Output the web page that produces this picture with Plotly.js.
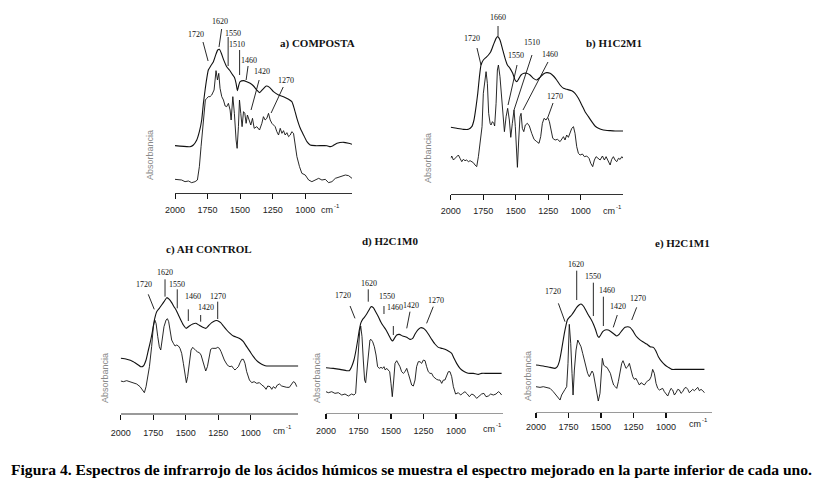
<!DOCTYPE html>
<html><head><meta charset="utf-8">
<script src="https://cdn.plot.ly/plotly-3.0.1.min.js"></script>
<style>html,body{margin:0;padding:0;background:#fff}#chart{width:823px;height:488px}</style>
</head><body><div id="chart"></div>
<script>
// ---- Data (wavenumber cm-1, absorbance in arbitrary units) ----
var tickVals = [2000, 1750, 1500, 1250, 1000];
var tickText = ["2000", "1750", "1500", "1250", "1000"];

// a) COMPOSTA
var aUpperWn = [2000,1885,1859,1833,1813,1795,1782,1769,1756,1744,1726,1705,1685,1672,1659,1646,1628,1603,1582,1562,1544,1531,1521,1510,1500,1474,1449,1423,1397,1372,1351,1326,1300,1274,1244,1205,1167,1128,1103,1085,1064,1038,1013,987,962,923,833,808,787,756,705,667,641];
var aUpperA  = [163,160,165,180,205,240,290,330,365,390,402,415,438,450,452,442,422,400,390,378,368,350,328,345,355,358,355,350,342,330,322,332,342,338,325,315,310,302,295,275,245,215,195,175,165,163,163,160,163,170,173,170,167];
var aLowerWn = [2000,1974,1949,1923,1897,1872,1846,1828,1813,1800,1787,1777,1767,1756,1744,1731,1718,1700,1685,1674,1664,1654,1641,1628,1615,1603,1590,1577,1569,1556,1544,1531,1523,1513,1505,1495,1485,1474,1464,1454,1444,1431,1418,1405,1392,1372,1351,1333,1321,1308,1295,1282,1269,1256,1244,1231,1218,1205,1192,1179,1167,1154,1141,1128,1115,1103,1090,1080,1064,1044,1026,1000,974,949,923,897,872,846,821,795,769,744,718,692,667,641];
var aLowerA  = [62,60,60,55,57,52,55,60,100,160,220,280,300,305,310,310,315,330,388,360,380,335,310,300,282,280,290,270,240,310,260,180,155,220,300,260,220,265,260,230,255,240,225,245,215,220,210,230,250,240,245,260,240,230,225,220,205,195,215,200,208,195,202,190,195,205,200,170,130,100,80,75,60,55,60,65,60,62,52,55,65,68,72,75,73,65];

// b) H1C2M1
var bUpperWn = [2000,1954,1903,1864,1838,1821,1805,1792,1779,1767,1749,1728,1710,1692,1672,1651,1638,1621,1603,1582,1564,1544,1523,1505,1492,1479,1459,1436,1415,1390,1364,1338,1313,1287,1262,1236,1210,1185,1159,1133,1108,1069,1044,1018,992,967,941,915,890,864,826,774,736,697,675];
var bUpperA  = [218,215,212,212,220,240,280,320,370,405,420,428,435,445,465,485,490,480,455,425,405,395,380,360,355,362,375,380,380,375,365,360,368,378,382,380,372,360,345,335,332,328,320,305,285,265,250,235,222,215,210,208,207,207,207];
var bLowerWn = [2000,1992,1979,1967,1954,1941,1928,1915,1903,1890,1877,1864,1851,1826,1813,1800,1787,1779,1769,1759,1749,1736,1728,1718,1708,1697,1690,1679,1669,1662,1651,1641,1633,1621,1608,1595,1587,1574,1562,1549,1538,1526,1513,1503,1492,1487,1477,1467,1459,1449,1438,1426,1410,1395,1377,1359,1338,1321,1308,1295,1282,1267,1254,1241,1228,1215,1197,1179,1159,1146,1133,1121,1108,1095,1082,1069,1056,1044,1031,1018,1005,987,972,954,936,923,908,895,882,864,851,833,818,805,787,774,762,749,736,723,710,697,684,675];
var bLowerA  = [125,132,120,125,130,135,125,115,122,118,120,115,118,112,105,100,130,160,180,220,320,370,385,350,260,230,225,235,230,222,290,390,405,370,300,220,205,250,275,240,188,230,270,220,130,98,180,250,260,215,205,225,230,222,200,182,175,170,190,230,245,240,248,235,210,185,180,182,175,182,190,180,195,188,202,215,220,200,160,140,135,138,130,132,125,110,100,120,130,125,120,132,120,130,115,105,122,130,120,115,125,122,130,125];

// c) AH CONTROL
var cUpperWn = [2000,1954,1903,1864,1846,1826,1805,1787,1769,1754,1741,1723,1703,1685,1667,1646,1626,1608,1590,1574,1556,1538,1518,1497,1472,1446,1421,1395,1369,1344,1326,1300,1274,1254,1231,1210,1185,1159,1133,1108,1082,1056,1031,1005,979,954,928,903,877,800,723,634];
var cUpperA  = [245,242,235,225,220,222,240,270,300,330,360,385,395,405,415,427,422,412,400,390,375,360,345,335,342,348,350,344,338,335,342,352,358,358,352,342,330,320,312,308,304,295,280,265,250,238,230,225,222,222,222,222];
var cLowerWn = [2000,1979,1954,1928,1903,1877,1851,1833,1818,1805,1795,1779,1762,1749,1738,1728,1715,1703,1692,1679,1667,1651,1641,1631,1621,1608,1595,1582,1569,1556,1544,1531,1518,1505,1495,1485,1472,1459,1446,1433,1421,1408,1395,1382,1369,1356,1346,1333,1321,1308,1295,1279,1267,1254,1241,1228,1215,1203,1185,1172,1159,1146,1133,1121,1108,1095,1082,1069,1056,1044,1031,1010,992,974,954,933,915,897,882,869,851,838,826,810,795,779,762,744,723,703,684,672,659,646];
var cLowerA  = [177,175,178,175,172,168,160,148,142,160,180,220,280,340,360,350,310,280,270,300,340,360,364,355,330,300,290,282,285,282,275,260,230,195,172,190,240,270,278,272,268,264,262,255,240,220,207,220,250,272,275,275,275,278,275,265,250,240,228,222,220,222,215,210,215,220,232,242,242,230,205,180,172,175,170,172,165,160,152,162,160,152,160,155,165,168,162,160,158,158,168,175,172,160];

// d) H2C1M0
var dUpperWn = [2000,1944,1892,1841,1821,1803,1785,1769,1756,1744,1731,1718,1705,1687,1669,1654,1636,1618,1597,1579,1559,1538,1518,1500,1487,1474,1456,1436,1410,1379,1354,1333,1315,1295,1272,1251,1231,1213,1187,1162,1136,1110,1085,1059,1033,1015,995,969,944,918,892,867,828,803,764,713,649];
var dUpperA  = [217,215,212,208,208,220,240,270,300,330,352,362,368,378,390,400,397,385,370,355,342,330,315,302,297,305,315,317,312,308,302,305,318,330,337,335,328,318,302,288,278,275,272,267,260,245,230,215,207,202,200,200,197,200,200,200,200];
var dLowerWn = [2000,1982,1956,1931,1905,1879,1854,1828,1803,1785,1772,1762,1751,1741,1733,1723,1713,1703,1695,1685,1674,1662,1654,1641,1628,1615,1603,1590,1577,1564,1554,1544,1533,1521,1510,1500,1490,1479,1469,1456,1444,1431,1418,1405,1392,1379,1367,1354,1341,1328,1315,1303,1290,1277,1264,1251,1238,1226,1213,1200,1187,1174,1162,1149,1136,1123,1110,1097,1085,1072,1059,1046,1033,1020,1003,982,964,949,931,913,897,879,862,841,823,803,785,769,751,733,713,692,674,662,649];
var dLowerA  = [145,142,145,140,142,135,138,132,138,135,140,200,270,325,342,310,240,180,172,210,270,300,302,295,280,255,220,215,218,215,220,210,215,210,205,170,130,180,230,238,230,220,205,200,205,215,200,180,165,162,180,220,235,235,230,240,238,220,205,200,200,190,185,182,180,180,170,180,180,192,205,205,190,160,138,142,135,140,145,138,130,138,135,125,132,138,140,130,132,138,135,138,145,142,135];

// e) H2C1M1
var eUpperWn = [2000,1944,1892,1854,1836,1821,1808,1795,1782,1769,1759,1744,1726,1708,1687,1669,1654,1636,1618,1597,1577,1559,1541,1526,1515,1503,1487,1469,1444,1423,1400,1379,1359,1336,1315,1295,1277,1256,1231,1205,1179,1149,1123,1097,1079,1059,1033,1008,982,956,918,867,790,705];
var eUpperA  = [195,192,188,185,190,205,230,260,290,315,330,338,345,355,368,375,378,372,360,345,332,318,300,282,278,285,295,300,300,295,288,282,288,300,308,310,308,298,282,272,265,258,250,248,238,220,205,195,188,182,182,182,182,182];
var eLowerWn = [2000,1969,1944,1918,1892,1867,1846,1828,1815,1803,1790,1777,1764,1754,1744,1733,1723,1715,1705,1692,1679,1667,1654,1641,1628,1615,1603,1590,1579,1569,1559,1546,1533,1521,1508,1497,1490,1479,1467,1454,1441,1428,1415,1403,1390,1379,1367,1354,1341,1331,1321,1308,1295,1282,1269,1256,1244,1231,1218,1205,1192,1179,1167,1154,1141,1128,1115,1103,1090,1077,1064,1051,1038,1026,1013,1000,987,974,962,949,936,923,910,897,885,872,859,846,833,821,808,795,782,769,756,744,731,718,705];
var eLowerA  = [130,128,130,128,125,115,105,95,90,105,115,122,130,200,317,260,170,105,180,240,270,260,250,230,210,190,170,160,170,177,170,140,105,87,110,170,215,195,190,188,180,170,150,135,130,125,145,175,200,208,195,185,190,200,180,160,152,155,145,135,142,138,135,142,148,150,160,182,170,140,125,120,122,125,115,108,102,115,125,120,105,112,122,120,110,115,125,128,122,112,118,122,118,122,128,118,122,118,112];

// Band labels: [text, label wn, label A, line wn1, A1, wn2, A2]
var aBands = [["1720",1838,495,1785,474,1746,417],["1620",1654,534,1642,513,1662,459],["1550",1554,498,1592,489,1592,402],["1510",1523,465,1504,450,1504,375],["1460",1431,417,1439,402,1454,360],["1420",1331,384,1354,360,1416,270],["1270",1146,357,1169,339,1262,261]];
var bBands = [["1720",1836,483,1798,456,1767,405],["1660",1636,546,1636,522,1636,492],["1550",1498,432,1490,405,1559,285],["1510",1375,471,1375,435,1513,270],["1460",1236,435,1252,414,1444,270],["1270",1198,309,1213,291,1252,249]];
var cBands = [["1720",1818,467,1788,437,1742,392],["1620",1659,502,1659,482,1659,430],["1550",1565,467,1565,452,1565,395],["1460",1446,430,1480,392,1480,357],["1420",1344,397,1385,375,1385,355],["1270",1249,430,1254,415,1254,363]];
var dBands = [["1720",1867,435,1815,402,1777,365],["1620",1669,470,1675,452,1675,415],["1550",1529,430,1554,402,1554,378],["1460",1469,398,1482,342,1482,315],["1420",1349,403,1354,385,1379,335],["1270",1154,420,1175,400,1226,350]];
var eBands = [["1720",1867,415,1828,380,1777,325],["1620",1692,497,1687,478,1687,390],["1550",1559,460,1559,442,1559,342],["1460",1456,418,1482,400,1482,312],["1420",1367,370,1375,345,1406,308],["1270",1213,395,1226,368,1264,330]];

var titles = ["a) COMPOSTA", "b) H1C2M1", "c) AH CONTROL", "d) H2C1M0", "e) H2C1M1"];
var yLabel = "Absorbancia";
var unitMain = "cm", unitExp = "-1";
var caption = "Figura 4. Espectros de infrarrojo de los ácidos húmicos se muestra el espectro mejorado en la parte inferior de cada uno.";

// ---- Layout (pixel geometry of the figure) ----
var W = 823, H = 488;
function fx(px){ return px / W; }
function fy(py){ return 1 - py / H; }

var panels = [
  {up:[aUpperWn,aUpperA], lo:[aLowerWn,aLowerA], bands:aBands, xd:[175,352], xr:[2000,641], yd:[193,15], yr:[21,555], style:"plain", title:[317,44], ylab:[150,155], cm:[327,210], stand:3},
  {up:[bUpperWn,bUpperA], lo:[bLowerWn,bLowerA], bands:bBands, xd:[450.7,623], xr:[2000,675], yd:[194,10], yr:[18,570], style:"plain", title:[614,43], ylab:[428,158], cm:[609,211], stand:3},
  {up:[cUpperWn,cUpperA], lo:[cLowerWn,cLowerA], bands:cBands, xd:[120.7,298.3], xr:[2000,634], yd:[413,245], yr:[81,585], style:"gray", title:[209,250], ylab:[105,378], cm:[279,431], stand:6},
  {up:[dUpperWn,dUpperA], lo:[dLowerWn,dLowerA], bands:dBands, xd:[326,503.3], xr:[2000,636], yd:[412.7,245], yr:[82,585], style:"gray", title:[390,241], ylab:[317,378], cm:[489,429], stand:4},
  {up:[eUpperWn,eUpperA], lo:[eLowerWn,eLowerA], bands:eBands, xd:[536,711.7], xr:[2000,649], yd:[411.7,235], yr:[55,585], style:"gray", title:[682,243], ylab:[528,376], cm:[695,424], stand:1}
];

var traces = [], shapes = [], annotations = [];
var layout = {
  width: W, height: H, margin:{l:0,r:0,t:0,b:0},
  paper_bgcolor:"#ffffff", plot_bgcolor:"rgba(0,0,0,0)",
  showlegend:false, font:{family:"Liberation Serif", size:10, color:"#000"}
};

panels.forEach(function(p, i){
  var n = i + 1, xs = n === 1 ? "" : String(n);
  var xa = "x" + xs, ya = "y" + xs;
  traces.push({x:p.up[0], y:p.up[1], xaxis:xa, yaxis:ya, mode:"lines", hoverinfo:"skip",
               line:{color:"#111", width:1.1, shape:"spline", smoothing:0.5}});
  traces.push({x:p.lo[0], y:p.lo[1], xaxis:xa, yaxis:ya, mode:"lines", hoverinfo:"skip",
               line:{color:"#111", width:0.9}});
  var gray = p.style === "gray";
  layout["xaxis" + xs] = {
    domain:[fx(p.xd[0]), fx(p.xd[1])], range:p.xr, autorange:false, anchor:ya,
    showgrid:false, zeroline:false, showline:true,
    linecolor: gray ? "#9a9a9a" : "#333", linewidth: gray ? 1.6 : 1,
    ticks:"outside", ticklen:5, tickwidth: gray ? 1.3 : 1, tickcolor:"#111",
    tickvals:tickVals, ticktext:tickText, ticklabelstandoff:p.stand,
    tickfont:{family:"Liberation Sans", size:9, color:"#222"}, fixedrange:true
  };
  layout["yaxis" + xs] = {
    domain:[fy(p.yd[0]), fy(p.yd[1])], range:p.yr, autorange:false, anchor:xa,
    visible:false, fixedrange:true
  };
  p.bands.forEach(function(b){
    annotations.push({xref:xa, yref:ya, x:b[1], y:b[2], text:b[0], showarrow:false,
      font:{family:"Liberation Serif", size:8, color:"#111"}, xanchor:"center", yanchor:"middle"});
    shapes.push({type:"line", xref:xa, yref:ya, x0:b[3], y0:b[4], x1:b[5], y1:b[6],
      line:{color:"#111", width:0.9}});
  });
  annotations.push({xref:"paper", yref:"paper", x:fx(p.title[0]), y:fy(p.title[1]), text:"<b>"+titles[i]+"</b>",
    showarrow:false, xanchor:"center", yanchor:"middle", font:{family:"Liberation Serif", size:11, color:"#111"}});
  annotations.push({xref:"paper", yref:"paper", x:fx(p.ylab[0]), y:fy(p.ylab[1]), text:yLabel, textangle:-90,
    showarrow:false, xanchor:"center", yanchor:"middle", font:{family:"Liberation Sans", size:9, color:"#888"}});
  annotations.push({xref:"paper", yref:"paper", x:fx(p.cm[0]), y:fy(p.cm[1]), text:unitMain,
    showarrow:false, xanchor:"center", yanchor:"middle", font:{family:"Liberation Sans", size:9, color:"#222"}});
  annotations.push({xref:"paper", yref:"paper", x:fx(p.cm[0] + 9.5), y:fy(p.cm[1] - 4), text:unitExp,
    showarrow:false, xanchor:"center", yanchor:"middle", font:{family:"Liberation Sans", size:6, color:"#222"}});
});

annotations.push({xref:"paper", yref:"paper", x:0.5, y:fy(469), text:"<b>"+caption+"</b>", showarrow:false,
  xanchor:"center", yanchor:"middle", font:{family:"Liberation Serif", size:15.6, color:"#000"}});

layout.shapes = shapes;
layout.annotations = annotations;
Plotly.newPlot("chart", traces, layout, {staticPlot:true, displayModeBar:false});
</script></body></html>
